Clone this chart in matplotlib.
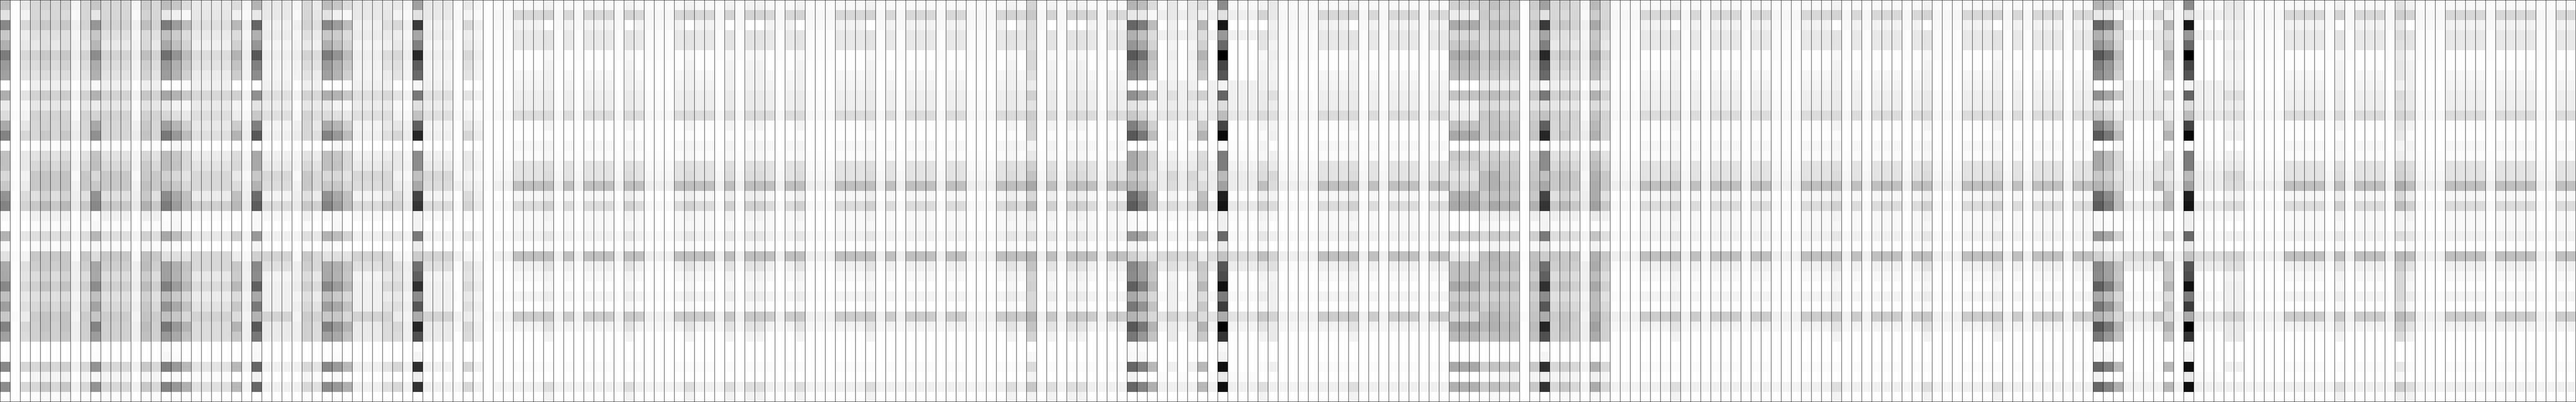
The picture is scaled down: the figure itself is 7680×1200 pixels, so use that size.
import numpy as np
import matplotlib
matplotlib.use("Agg")
import matplotlib.pyplot as plt

W_ = [0xfe,0xfc,0xff,0xfd,0xfd,0xff,0xff,0xff,0xfd,0xfd,0xfd,0xfb,0xff,0xff,0xff,0xff,0xfd,0xfd,0xfb,0xff,0xfc,0xff,0xff,0xff,0xff,0xfb,0xfd,0xff,0xff,0xff,0xff,0xfa,0xfe,0xff,0xff,0xff,0xff,0xff,0xff,0xff]
K = [0xa0,0xe2,0x3a,0xa6,0x80,0x28,0x5c,0x6a,0xf6,0x78,0xe0,0xc2,0x60,0x26,0xff,0x8c,0x8c,0xc0,0xa8,0x44,0x34,0xf4,0xf4,0x7a,0xec,0xcc,0x70,0x60,0x30,0x8c,0x56,0xac,0x26,0x50,0xfc,0xf5,0x30,0xee,0x32,0xfe]
V = [0x8c,0xe0,0x18,0x98,0x68,0x00,0x44,0x55,0xf4,0x64,0xdd,0xbc,0x44,0x08,0xfa,0x7c,0x7c,0xba,0xa0,0x20,0x14,0xf0,0xf0,0x68,0xea,0xc4,0x56,0x4c,0x10,0x7c,0x3c,0xac,0x02,0x34,0xf8,0xf4,0x10,0xea,0x10,0xfc]
D0 = [0xb4,0xe8,0x66,0xb0,0x96,0x58,0x80,0x8c,0xfc,0x90,0xe4,0xc8,0x80,0x58,0xff,0xa8,0xa8,0xc8,0xb4,0x6c,0x5c,0xf8,0xf8,0x98,0xf4,0xd0,0x88,0x8c,0x60,0xa8,0x78,0xb4,0x58,0x78,0xf9,0xf8,0x66,0xf2,0x66,0xff]
M0 = [0xbc,0xe2,0x88,0xc8,0xb0,0x7c,0x9a,0xa0,0xfe,0xae,0xea,0xdc,0xaa,0x84,0xfe,0xc0,0xc0,0xd8,0xc8,0x94,0x84,0xf8,0xfe,0xb2,0xf6,0xe2,0xaa,0xa8,0x88,0xbf,0x9e,0xc8,0x82,0xa0,0xfe,0xfe,0x88,0xfe,0x8c,0xfe]
M1 = [0xc6,0xe6,0x96,0xc6,0xb6,0x8c,0xac,0xb0,0xf8,0xb2,0xec,0xd4,0xa8,0x90,0xff,0xc4,0xbe,0xd8,0xc8,0x94,0x88,0xfa,0xf8,0xb6,0xf6,0xdc,0xa6,0xa8,0x8c,0xc0,0xa4,0xc6,0x84,0x9c,0xfe,0xfc,0x94,0xf6,0x94,0xff]
D1 = [0xbc,0xe8,0x7c,0xc0,0xa8,0x70,0x98,0x9c,0xff,0xa6,0xea,0xd6,0xa0,0x78,0xff,0xbc,0xbc,0xd0,0xc0,0x8c,0x7c,0xfc,0xfb,0xa8,0xf8,0xe0,0xa0,0xa0,0x80,0xbc,0x94,0xc0,0x78,0x98,0xfa,0xf6,0x80,0xfc,0x84,0xfe]
D2 = [0xc6,0xf0,0x9c,0xcc,0xc0,0x94,0xb0,0xb4,0xfc,0xb4,0xf4,0xe0,0xb6,0x98,0xf6,0xc6,0xc4,0xd8,0xc8,0xa8,0x9c,0xf8,0xf6,0xbc,0xfa,0xe0,0xb0,0xb2,0x9c,0xca,0xa8,0xc8,0x98,0xa8,0xfc,0xfa,0x9a,0xf8,0x98,0xfc]
D3 = [0xdc,0xf8,0xbc,0xdc,0xd4,0xbc,0xc8,0xd0,0xfb,0xc8,0xf8,0xe8,0xd0,0xbc,0xf8,0xd8,0xd8,0xe4,0xd8,0xc0,0xbc,0xfc,0xfc,0xd4,0xfe,0xe4,0xc4,0xc6,0xb8,0xd8,0xc4,0xd8,0xb4,0xc4,0xfe,0xfe,0xb8,0xfe,0xb0,0xfe]
G = [0xd8,0xd6,0xd4,0xe0,0xe8,0xd4,0xdc,0xe2,0xef,0xd2,0xe6,0xd4,0xd6,0xd6,0xfc,0xe2,0xd8,0xc8,0xc8,0xe0,0xc8,0xf0,0xfb,0xde,0xfa,0xc8,0xce,0xdc,0xd0,0xe0,0xd8,0xcc,0xd0,0xd0,0xff,0xff,0xd8,0xf5,0xd8,0xfb]
G1 = [0xd4,0xda,0xc8,0xe0,0xe0,0xc8,0xd2,0xdc,0xef,0xcc,0xe8,0xd4,0xd2,0xc8,0xf8,0xdc,0xd0,0xc4,0xc4,0xd4,0xb8,0xf0,0xf7,0xda,0xf6,0xc8,0xc8,0xd4,0xc4,0xdc,0xd0,0xc4,0xc4,0xc8,0xff,0xff,0xd0,0xf2,0xc8,0xf8]
G2 = [0xcc,0xd2,0xbe,0xda,0xd8,0xbe,0xce,0xd2,0xee,0xc6,0xe2,0xd0,0xc8,0xc4,0xfd,0xd6,0xca,0xc8,0xc0,0xc8,0xb0,0xee,0xfa,0xd0,0xf8,0xc0,0xbc,0xcc,0xbc,0xd0,0xc8,0xc4,0xbc,0xc0,0xff,0xff,0xc8,0xf5,0xc8,0xfc]
L = [0xe8,0xf3,0xd8,0xed,0xe8,0xd8,0xe0,0xe3,0xff,0xe4,0xf8,0xf2,0xe6,0xd6,0xff,0xe8,0xe8,0xf2,0xec,0xdc,0xd4,0xfa,0xff,0xe6,0xfe,0xf4,0xe0,0xe4,0xda,0xe8,0xe0,0xec,0xd8,0xdc,0xff,0xff,0xd6,0xfe,0xd8,0xff]
VL = [0xf5,0xf9,0xef,0xf5,0xf2,0xed,0xf2,0xf2,0xff,0xf1,0xfc,0xf7,0xf0,0xec,0xff,0xf5,0xf2,0xf8,0xf2,0xee,0xe8,0xff,0xff,0xf2,0xff,0xf8,0xee,0xf0,0xec,0xf4,0xee,0xf4,0xee,0xee,0xff,0xff,0xf0,0xff,0xf0,0xff]
L2 = [0xea,0xe6,0xe0,0xea,0xf0,0xdd,0xe4,0xec,0xf0,0xd8,0xea,0xde,0xe8,0xe0,0xfe,0xec,0xe4,0xd8,0xd8,0xec,0xd0,0xfa,0xff,0xe8,0xff,0xd8,0xd8,0xe8,0xdc,0xec,0xe4,0xd4,0xdc,0xdc,0xff,0xff,0xe4,0xfa,0xe0,0xfe]
L3 = [0xe8,0xe8,0xf0,0xec,0xf4,0xee,0xf2,0xf4,0xf0,0xe0,0xec,0xe0,0xf4,0xf0,0xff,0xf0,0xea,0xd8,0xdc,0xf4,0xdc,0xf8,0xff,0xf0,0xff,0xd4,0xe0,0xf4,0xf0,0xf0,0xf0,0xd4,0xea,0xea,0xff,0xff,0xf0,0xff,0xf0,0xff]
LD = [0xdc,0xf0,0xb8,0xdc,0xd0,0xb4,0xc4,0xcc,0xff,0xd0,0xf4,0xec,0xcc,0xb4,0xfc,0xdc,0xd8,0xe8,0xdc,0xc0,0xb8,0xfc,0xff,0xd0,0xff,0xec,0xc8,0xcc,0xb8,0xdc,0xc8,0xdc,0xb4,0xc8,0xff,0xff,0xb8,0xff,0xb8,0xff]
H = [0xf8,0xd8,0xf2,0xe8,0xe8,0xfd,0xfd,0xf6,0xf4,0xee,0xee,0xdc,0xfc,0xfd,0xf6,0xfb,0xe4,0xe4,0xc0,0xf6,0xdc,0xf8,0xf8,0xf0,0xfc,0xc0,0xf0,0xf8,0xfd,0xf2,0xfd,0xcc,0xf2,0xfe,0xff,0xff,0xfb,0xff,0xf0,0xfe]
H2 = [0xf2,0xd4,0xff,0xe4,0xe4,0xf8,0xf2,0xf0,0xf0,0xea,0xea,0xda,0xf3,0xfb,0xf4,0xf6,0xe0,0xdc,0xbe,0xee,0xd0,0xf2,0xf6,0xe6,0xf8,0xbe,0xe4,0xf2,0xf6,0xec,0xf8,0xc8,0xe4,0xf2,0xff,0xff,0xfa,0xff,0xde,0xf2]
P = [0xfa,0xf6,0xf8,0xfb,0xfb,0xfb,0xfe,0xff,0xff,0xfb,0xfb,0xf6,0xfd,0xff,0xff,0xfc,0xf9,0xf6,0xef,0xff,0xf8,0xff,0xff,0xf8,0xff,0xef,0xfa,0xff,0xff,0xfb,0xff,0xf0,0xf6,0xff,0xff,0xff,0xff,0xff,0xf2,0xff]
P2 = [0xf8,0xee,0xff,0xf0,0xfe,0xff,0xff,0xff,0xf0,0xf0,0xf0,0xe8,0xfe,0xff,0xfc,0xfa,0xf2,0xec,0xec,0xfe,0xe8,0xfa,0xfe,0xf8,0xfe,0xdc,0xec,0xfe,0xfe,0xf8,0xfe,0xe4,0xf4,0xfe,0xff,0xff,0xff,0xfb,0xf0,0xff]
J = [0xd4,0xc8,0xdc,0xdc,0xe0,0xd8,0xd8,0xe0,0xec,0xd0,0xe2,0xcc,0xd6,0xd8,0xf4,0xe8,0xd0,0xc4,0xa8,0xd8,0xb8,0xec,0xf2,0xdc,0xf8,0xb4,0xc4,0xd4,0xd0,0xd8,0xd8,0xb4,0xc4,0xd4,0xff,0xf8,0xdc,0xf4,0xc8,0xf2]
J2 = [0xe0,0xce,0xe8,0xdc,0xe0,0xea,0xe6,0xe6,0xf0,0xdc,0xe0,0xd4,0xe4,0xe8,0xf4,0xee,0xd4,0xd0,0xac,0xd8,0xbc,0xf4,0xf4,0xdc,0xfa,0xb8,0xcc,0xd8,0xd8,0xd8,0xe0,0xb8,0xcc,0xdc,0xff,0xff,0xe8,0xf8,0xcc,0xf0]
N1 = [0xd0,0xec,0xaa,0xd8,0xc8,0xaa,0xbc,0xc0,0xff,0xc4,0xf4,0xec,0xc4,0xa8,0xff,0xc8,0xd4,0xe4,0xd8,0xb0,0xa8,0xff,0xff,0xcc,0xff,0xe8,0xc0,0xc0,0xa8,0xcc,0xbc,0xd8,0xa8,0xb8,0xff,0xff,0xa8,0xff,0xb0,0xff]
N2 = [0xd0,0xca,0xd0,0xd8,0xdc,0xc8,0xcc,0xd4,0xec,0xc4,0xdc,0xc8,0xcc,0xcc,0xf8,0xd8,0xd0,0xbc,0xbc,0xcc,0xc0,0xf0,0xf8,0xd8,0xf8,0xc0,0xc4,0xcc,0xc8,0xd8,0xd0,0xc0,0xb8,0xc8,0xff,0xff,0xd0,0xfc,0xcc,0xfc]
N3 = [0xc0,0xd0,0xb8,0xd4,0xd0,0xb8,0xc4,0xcc,0xec,0xbc,0xdc,0xc4,0xc4,0xbc,0xf8,0xd0,0xc8,0xb0,0xb0,0xc0,0xa8,0xf0,0xf8,0xcc,0xf4,0xb4,0xb8,0xc8,0xb8,0xd0,0xc4,0xb4,0xb0,0xc0,0xff,0xff,0xc4,0xfa,0xc0,0xf8]
M3 = [0xb8,0xcc,0xa8,0xc8,0xc4,0xa8,0xb8,0xbc,0xf0,0xb0,0xdc,0xc4,0xb8,0xb0,0xfb,0xc8,0xbc,0xb0,0xac,0xac,0xa0,0xea,0xfc,0xc4,0xf2,0xb0,0xaa,0xbc,0xa8,0xbc,0xbc,0xac,0xa0,0xac,0xfe,0xfd,0xb0,0xf0,0xac,0xf8]

profiles = {"W": W_, "K": K, "V": V, "D0": D0, "M0": M0, "M1": M1, "D1": D1, "D2": D2, "D3": D3,
            "G": G, "G1": G1, "G2": G2, "L": L, "VL": VL, "L2": L2, "L3": L3, "LD": LD,
            "H": H, "H2": H2, "P": P, "P2": P2, "J": J, "J2": J2, "N1": N1, "N2": N2, "N3": N3, "M3": M3}

columns = """
M0 W L G G1 G G1 VL G M1 G G G VL G2 G D1 D2 D3 L2
L2 L2 L2 LD VL D0 L3 L3 L3 VL G L2 M0 D2 D3 L3 L3 L3 L2 L
VL K L3 L3 L3 P L VL W P
P H H H H2 P H P H H H P H2 H P P P H H2 H
H P H2 P H2 H2 H P H H2 P P P H H H H2 P H P
H H H P H H P P P H
H2 H J P H2 P H2 H2 H P H H D0 D1 D3 P2 L3 P2 L3 LD
P2 V P2 P2 P2 H2 L3 P P P P H H H H2 P H P H H
H P H H N1 N1 N1 N2 N3 G2
G2 W G2 K G G1 G VL M3 G P P P H H H H2 P H P
H H H P H H P P P H H H H2 P H P H H H P
H H2 P P P H H H H2 P
H P H H H P H H D0 D1 D3 P2 P2 P2 H LD P V P2 P2
P2 L3 L3 P P P P H H H H P H2 P H H H P J2 H2
P P P H H H H P H H H H P P H H
""".split()

data = np.array([profiles[c] for c in columns]).T
n_rows, n_cols = data.shape

fig = plt.figure(figsize=(76.8, 12), dpi=100)
ax = fig.add_axes([0, 0, 1, 1])
ax.imshow(data, cmap="gray", vmin=0, vmax=255, aspect="auto", interpolation="nearest",
          extent=(0, n_cols, n_rows, 0))
ax.vlines(np.arange(n_cols + 1), 0, n_rows, colors="black", linewidth=0.72)
ax.set_xlim(0, n_cols)
ax.set_ylim(n_rows, 0)
ax.set_xticks([])
ax.set_yticks([])
for s in ax.spines.values():
    s.set_color("black")
    s.set_linewidth(1.4)
fig.savefig("out.png", dpi=100)
